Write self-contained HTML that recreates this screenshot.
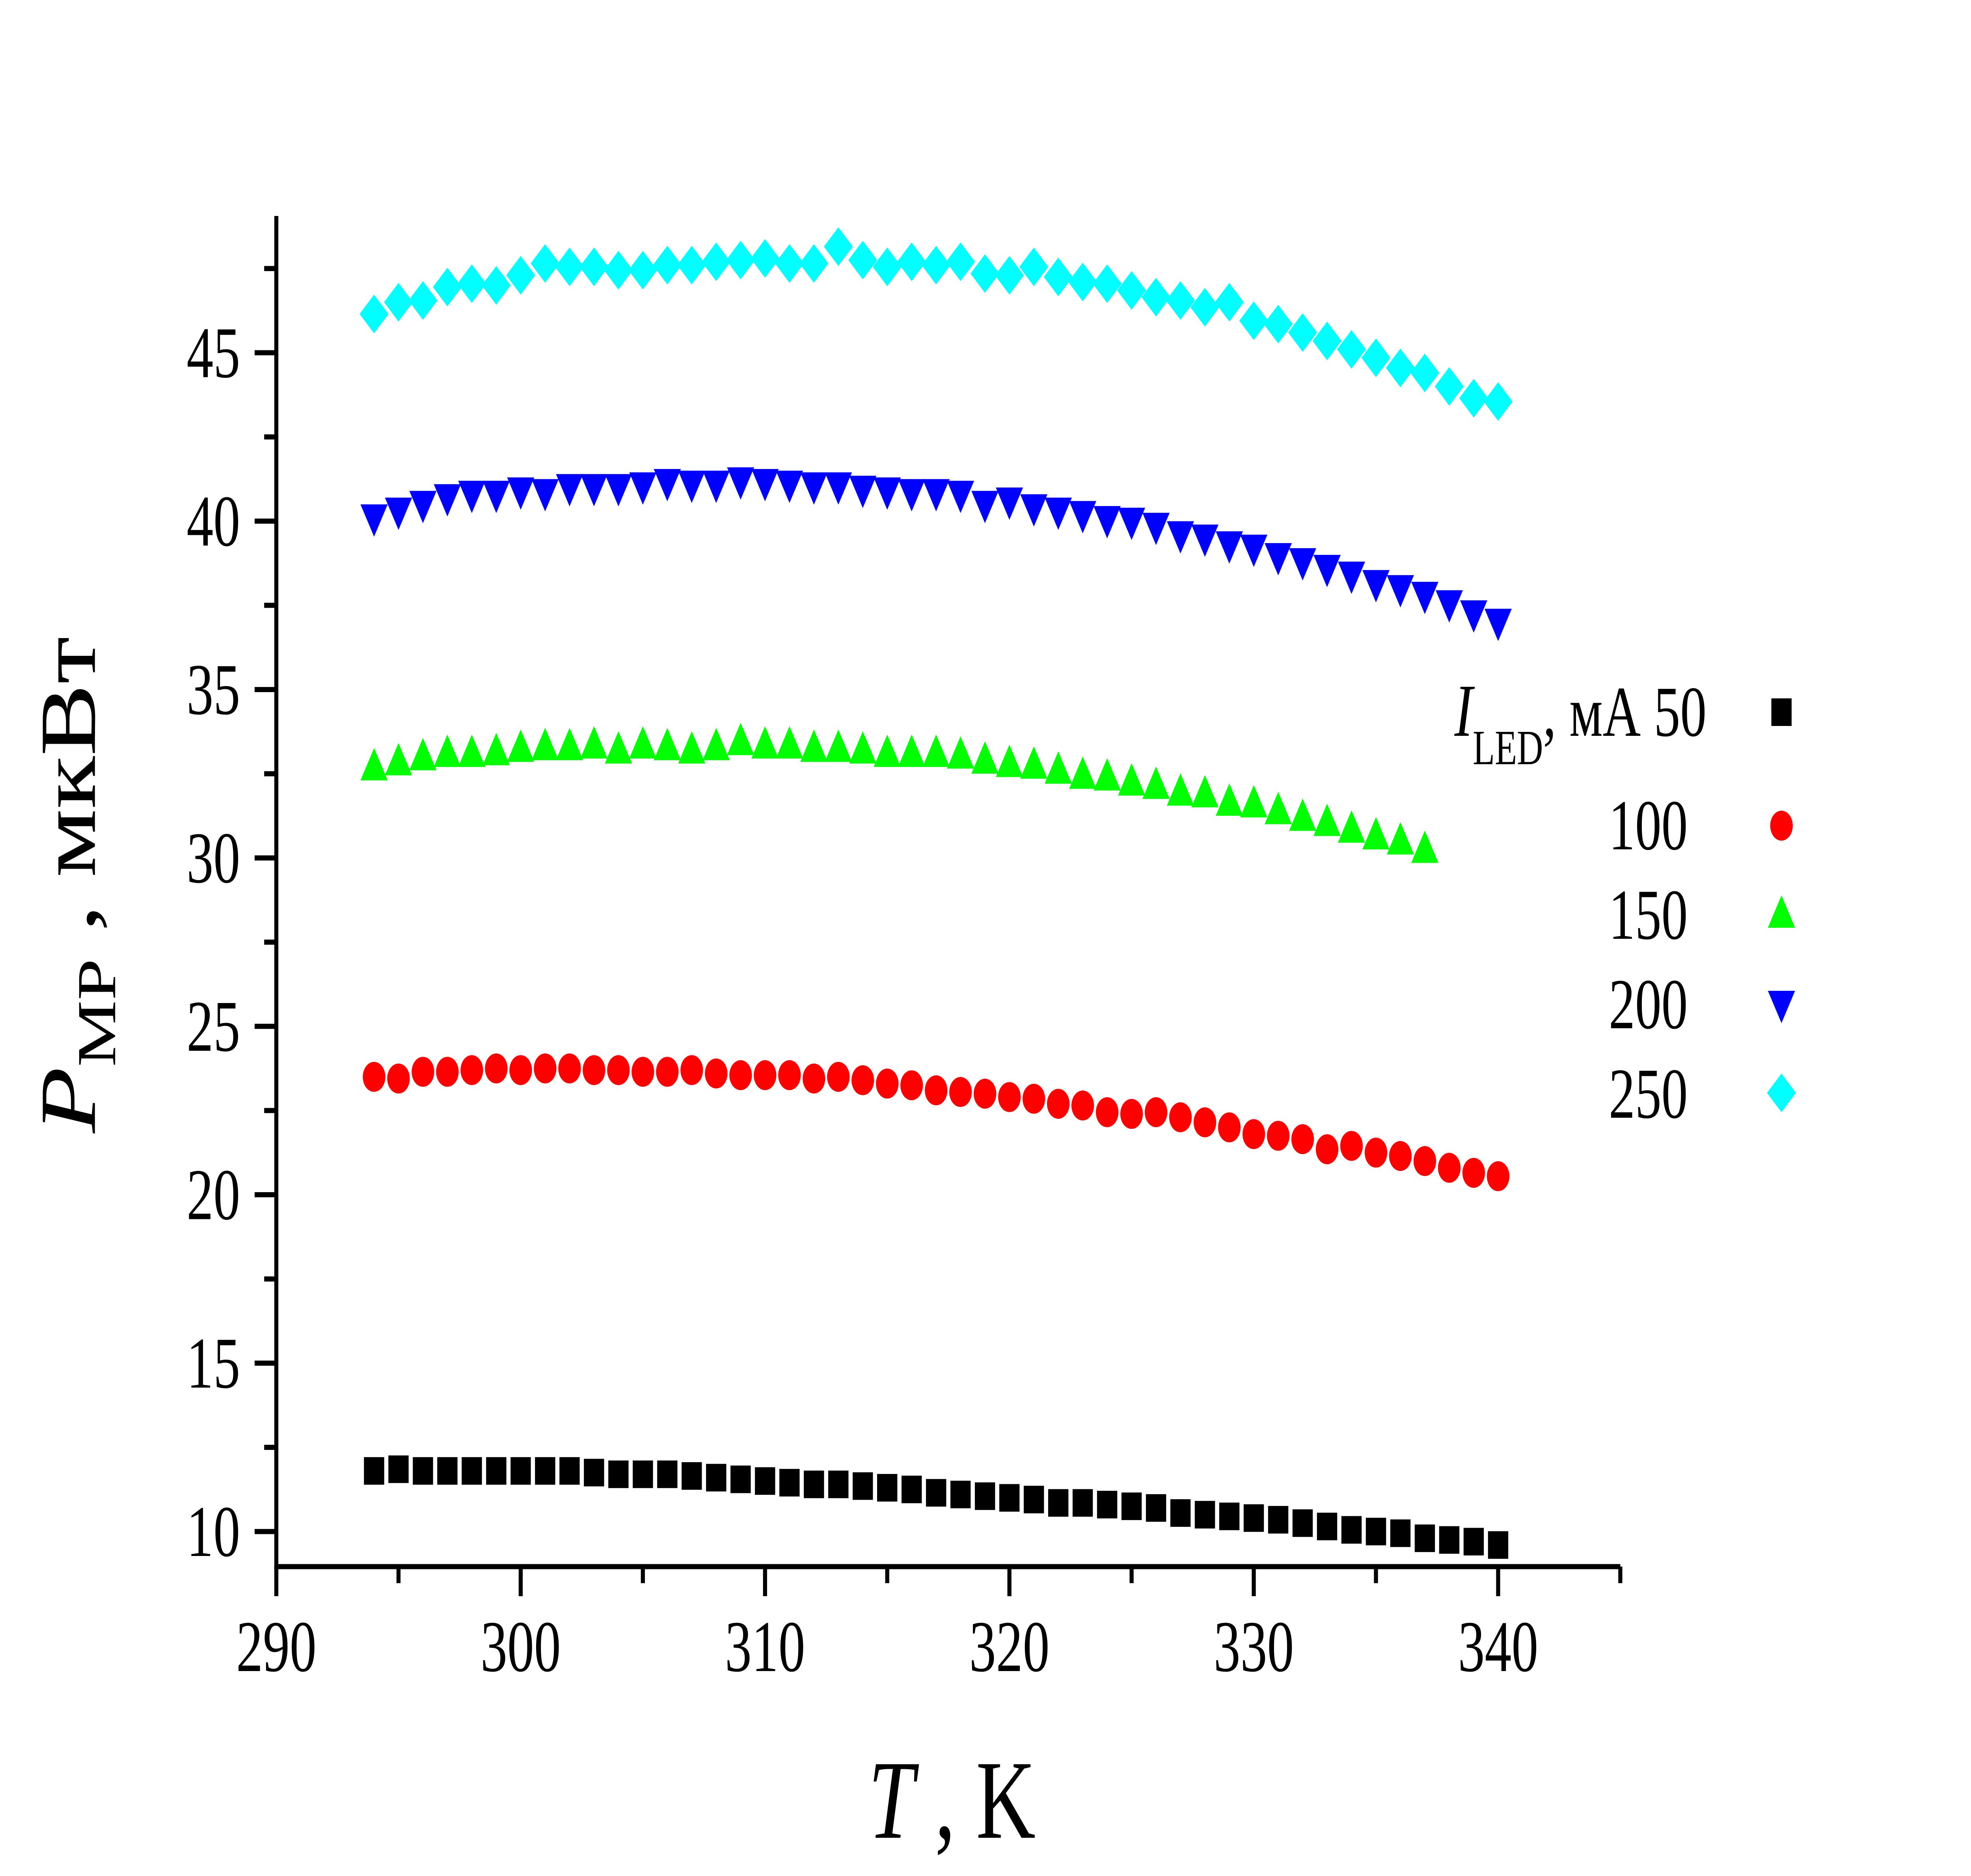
<!DOCTYPE html>
<html><head><meta charset="utf-8"><style>
html,body{margin:0;padding:0;background:#fff;width:100%;height:100%;overflow:hidden;}
svg{display:block;width:100vw;height:100vh;font-family:"Liberation Serif","DejaVu Serif",serif;}
</style></head><body>
<svg id="chart" viewBox="0 0 6812 4760" preserveAspectRatio="none" xmlns="http://www.w3.org/2000/svg">
<rect width="6812" height="4760" fill="#fff"/>
<g id="axes"></g>
<g id="marks"></g>
<text x="3290" y="4663" font-size="285" text-anchor="middle"><tspan font-style="italic">T</tspan> , K</text>
<text transform="translate(328,2245) rotate(-90)" font-size="275" text-anchor="middle"><tspan font-style="italic">P</tspan><tspan font-size="190" dy="70">MP</tspan><tspan dy="-70"> , мкВт</tspan></text>
<g id="legend">
<text x="5898" y="1867" font-size="182" text-anchor="end"><tspan font-style="italic" font-size="190">I</tspan><tspan font-size="125" dy="72">LED</tspan><tspan dy="-72">, мА 50</tspan></text>
</g>
</svg>
<script>
const xTicks=[290,300,310,320,330,340];
const yTicks=[10,15,20,25,30,35,40,45];
const T=[294,295,296,297,298,299,300,301,302,303,304,305,306,307,308,309,310,311,312,313,314,315,316,317,318,319,320,321,322,323,324,325,326,327,328,329,330,331,332,333,334,335,336,337,338,339,340];
const p50=[11.8,11.85,11.8,11.8,11.8,11.8,11.8,11.8,11.8,11.75,11.7,11.7,11.7,11.65,11.6,11.55,11.5,11.45,11.4,11.4,11.35,11.3,11.25,11.15,11.1,11.05,11.0,10.95,10.85,10.85,10.8,10.75,10.7,10.55,10.5,10.45,10.4,10.35,10.25,10.15,10.05,10.0,9.95,9.8,9.75,9.7,9.6];
const p100=[23.5,23.45,23.65,23.65,23.7,23.75,23.7,23.75,23.75,23.7,23.7,23.65,23.65,23.7,23.6,23.55,23.55,23.55,23.45,23.5,23.4,23.3,23.25,23.1,23.05,23.0,22.9,22.85,22.7,22.65,22.45,22.4,22.45,22.3,22.15,22.0,21.8,21.75,21.65,21.35,21.45,21.25,21.15,21.0,20.8,20.65,20.55];
const p150=[32.7,32.85,33.0,33.1,33.1,33.15,33.25,33.3,33.3,33.35,33.2,33.35,33.3,33.2,33.3,33.45,33.35,33.35,33.25,33.25,33.2,33.1,33.1,33.1,33.05,32.9,32.8,32.75,32.6,32.45,32.4,32.25,32.15,31.95,31.9,31.65,31.6,31.4,31.2,31.05,30.85,30.65,30.5,30.25];
const p200=[40.1,40.3,40.5,40.7,40.8,40.8,40.9,40.85,41.0,41.0,41.0,41.05,41.15,41.1,41.1,41.2,41.15,41.1,41.05,41.05,40.95,40.9,40.85,40.85,40.8,40.5,40.6,40.4,40.3,40.2,40.05,40.0,39.85,39.6,39.5,39.3,39.2,38.95,38.8,38.6,38.4,38.15,38.0,37.8,37.55,37.25,37.0];
const p250=[46.15,46.5,46.55,46.95,47.05,47.0,47.3,47.65,47.55,47.55,47.45,47.45,47.6,47.6,47.7,47.75,47.8,47.65,47.65,48.15,47.75,47.55,47.7,47.6,47.7,47.35,47.3,47.55,47.25,47.1,47.05,46.85,46.65,46.55,46.35,46.5,45.95,45.85,45.6,45.35,45.1,44.85,44.55,44.4,44.0,43.65,43.55];
const seriesLabels=["50","100","150","200","250"];

const NS="http://www.w3.org/2000/svg";
const X0=955,X1=5600,Y0=3975,Ytop=548;
function sx(v){return X0+(v-290)*(X1-X0)/55;}
function sy(v){return 3886-(v-10)*(3886-895)/35;}
function mk(tag,attrs,parent){const e=document.createElementNS(NS,tag);for(const k in attrs)e.setAttribute(k,attrs[k]);parent.appendChild(e);return e;}
const axes=document.getElementById('axes'),marks=document.getElementById('marks'),legend=document.getElementById('legend');

let l=mk('line',{x1:X0,y1:Ytop,x2:X0,y2:Y0+7,stroke:'#000','stroke-width':14},axes);


l=mk('line',{x1:X0-7,y1:Y0,x2:X1,y2:Y0,stroke:'#000','stroke-width':13},axes);



for(let v=290;v<=345;v+=5){
  const major=(v%10===0);
  const t=mk('line',{x1:sx(v),y1:Y0,x2:sx(v),y2:Y0+(major?75:42),stroke:'#000','stroke-width':14},axes);
  
  
}
xTicks.forEach(v=>{
  const t=mk('text',{x:sx(v),y:4240,'font-size':185,'text-anchor':'middle'},axes);
  t.textContent=v;
  
  
});
for(let v=10;v<=47.5;v+=2.5){
  const major=(v%5===0);
  const t=mk('line',{x1:X0,y1:sy(v),x2:X0-(major?75:42),y2:sy(v),stroke:'#000','stroke-width':13},axes);
  
  
}
yTicks.forEach(v=>{
  const t=mk('text',{x:830,y:sy(v)+62,'font-size':185,'text-anchor':'end'},axes);
  t.textContent=v;
  
  
});

function marker(shape,cx,cy,parent){
  let e;
  if(shape==='square')e=mk('rect',{x:cx-35,y:cy-35,width:70,height:70,fill:'#000'},parent);
  else if(shape==='circle')e=mk('ellipse',{cx:cx,cy:cy,rx:39,ry:38,fill:'#ff0000'},parent);
  else if(shape==='up')e=mk('polygon',{points:`${cx-47},${cy+34} ${cx+47},${cy+34} ${cx},${cy-48}`,fill:'#00ff00'},parent);
  else if(shape==='down')e=mk('polygon',{points:`${cx-47},${cy-34} ${cx+47},${cy-34} ${cx},${cy+48}`,fill:'#0000ff'},parent);
  else e=mk('polygon',{points:`${cx},${cy-49} ${cx+50},${cy} ${cx},${cy+49} ${cx-50},${cy}`,fill:'#00ffff'},parent);
  return e;
}
const series=[[p50,'square'],[p100,'circle'],[p150,'up'],[p200,'down'],[p250,'diamond']];
series.forEach((s,i)=>{
  const g=mk('g',{},marks);
  
  
  s[0].forEach((v,j)=>{
    const e=marker(s[1],sx(T[j]),sy(v),g);
    
    
  });
});
const legY=[1807,2095,2320,2548,2773];
const legTextY=[1867,2155,2382,2609,2836];
series.forEach((s,i)=>{
  const e=marker(s[1],6157,legY[i],legend);
  
  
  if(i>0){
    const t=mk('text',{x:5833,y:legTextY[i],'font-size':182,'text-anchor':'end'},legend);
    t.textContent=seriesLabels[i];
    
    
  }
});
</script>
</body></html>
